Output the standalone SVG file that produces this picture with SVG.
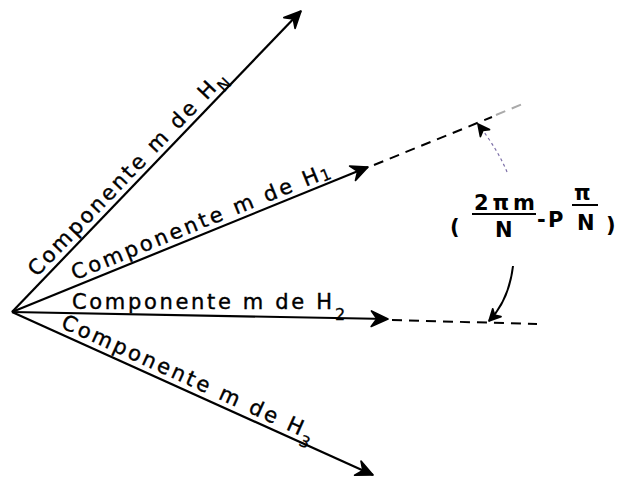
<svg xmlns="http://www.w3.org/2000/svg" width="621" height="481" viewBox="0 0 621 481">
  <style>
    .lbl { font-family: "DejaVu Sans", "Liberation Sans", sans-serif; font-size: 21px; fill: #000; stroke: #000; stroke-width: 0.4; }
    .sub { font-family: "DejaVu Sans", "Liberation Sans", sans-serif; font-size: 16px; fill: #000; stroke: #000; stroke-width: 0.3; }
    .frm { font-family: "DejaVu Sans", "Liberation Sans", sans-serif; font-size: 21px; font-weight: bold; fill: #000; }
    .vec { stroke: #000; stroke-width: 2.2; fill: none; marker-end: url(#ah); }
    .dash { stroke: #000; stroke-width: 2; fill: none; stroke-dasharray: 10 7; }
  </style>
  <defs>
    <marker id="ah" markerUnits="userSpaceOnUse" markerWidth="20" markerHeight="20" refX="0" refY="0" viewBox="-16 -8 18 16" orient="auto" overflow="visible">
      <path d="M0,0 L-15,-7 L-10,0 L-15,7 Z" fill="#000" stroke="#000" stroke-width="1.5" stroke-linejoin="round"/>
    </marker>
    <marker id="ah2" markerUnits="userSpaceOnUse" markerWidth="16" markerHeight="16" refX="0" refY="0" viewBox="-12 -6 14 12" orient="auto" overflow="visible">
      <path d="M0,0 L-10,-5 L-7,0 L-10,5 Z" fill="#000" stroke="#000" stroke-width="1.5" stroke-linejoin="round"/>
    </marker>
  </defs>

  <g id="connectors">
    <path class="vec" d="M12,312 L301,11"/>
    <path class="vec" d="M12,312 L368,167"/>
    <path class="vec" d="M12,312 L388,319"/>
    <path class="vec" d="M12,312 L373,475"/>
    <path class="dash" d="M374,165 L492,117"/>
    <path class="dash" d="M496,115 L525,103" style="stroke:#aaa"/>
    <path class="dash" d="M392,320 L537,324"/>
    <path d="M507,172 Q498,150 478,124" stroke="#7d70a8" stroke-width="1.2" stroke-dasharray="3 3" fill="none" marker-end="url(#ah2)"/>
    <path d="M513,266 Q509,300 489,321" stroke="#000" stroke-width="2" fill="none" marker-end="url(#ah2)"/>
  </g>

  <g id="node-HN" transform="translate(12,312) rotate(-46.17)">
    <text class="lbl" x="42" y="-6" textLength="261" lengthAdjust="spacing">Componente m de H</text>
    <text class="sub" x="305" y="1">N</text>
  </g>

  <g id="node-H1" transform="translate(12,312) rotate(-22.03)">
    <text class="lbl" x="70" y="-6" textLength="265" lengthAdjust="spacing">Componente m de H</text>
    <text class="sub" x="337" y="-4">1</text>
  </g>

  <g id="node-H2">
    <text class="lbl" x="72" y="309" textLength="260" lengthAdjust="spacing">Componente m de H</text>
    <text class="sub" x="335" y="320">2</text>
  </g>

  <g id="node-H3" transform="translate(12,312) rotate(24.36)">
    <text class="lbl" x="50" y="-6" textLength="263" lengthAdjust="spacing">Componente m de H</text>
    <text class="sub" x="315" y="3">3</text>
  </g>

  <g id="node-formula">
    <text class="frm" x="450" y="234" font-size="32" font-weight="normal">(</text>
    <text class="frm" x="474" y="210" textLength="61" lengthAdjust="spacing">2πm</text>
    <line x1="472" y1="214" x2="536" y2="214" stroke="#000" stroke-width="2"/>
    <text class="frm" x="495" y="237">N</text>
    <text class="frm" x="537" y="227">-</text>
    <text class="frm" x="548" y="227">P</text>
    <text class="frm" x="574" y="200">π</text>
    <line x1="572" y1="205" x2="598" y2="205" stroke="#000" stroke-width="2"/>
    <text class="frm" x="577" y="230">N</text>
    <text class="frm" x="606" y="232" font-size="32" font-weight="normal">)</text>
  </g>
</svg>
